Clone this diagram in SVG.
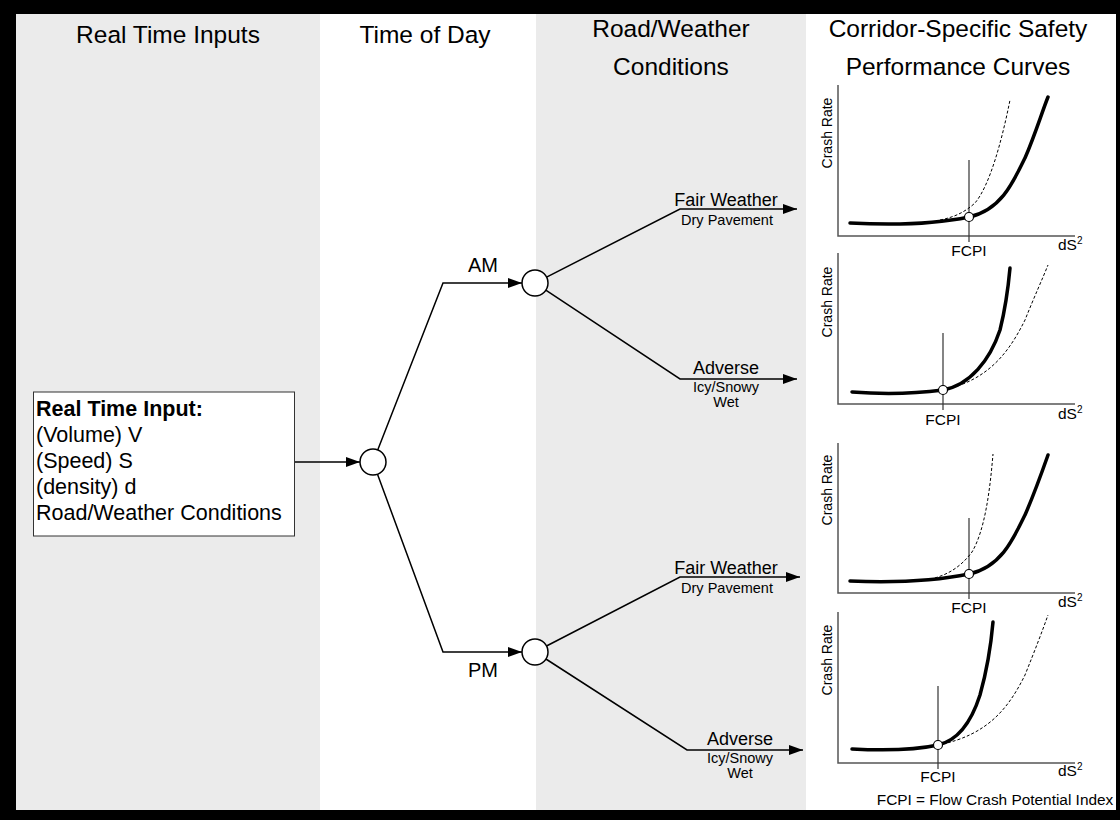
<svg xmlns="http://www.w3.org/2000/svg" width="1120" height="820" viewBox="0 0 1120 820">
<defs>
<style>
.t{font-family:"Liberation Sans",Arial,sans-serif;fill:#000}
.hdr{font-size:24.5px;text-anchor:middle}
.box{font-size:21.5px}
.lbl{font-size:18px;text-anchor:middle}
.sm{font-size:14.5px;text-anchor:middle}
.ax{fill:none;stroke:#555;stroke-width:1.5}
.fc{stroke:#333;stroke-width:1.2}
.thick{fill:none;stroke:#000;stroke-width:3.5;stroke-linecap:round}
.dash{fill:none;stroke:#000;stroke-width:1;stroke-dasharray:3,2}
.pt{fill:#fff;stroke:#000;stroke-width:1.2}
.conn{fill:none;stroke:#000;stroke-width:1.5}
.node{fill:#fff;stroke:#000;stroke-width:1.5}
.cr{font-size:14px;text-anchor:middle}
.fcpi{font-size:15.5px;text-anchor:middle}
.ds{font-size:15.5px}
</style>
<marker id="ah" viewBox="0 0 14 10" refX="14" refY="5" markerWidth="14" markerHeight="10" markerUnits="userSpaceOnUse" orient="auto">
<path d="M0,0 L14,5 L0,10 z" fill="#000"/>
</marker>
</defs>
<rect x="0" y="0" width="1120" height="820" fill="#000"/>
<g id="panels">
<rect x="16" y="14" width="304" height="796" fill="#ebebeb"/>
<rect x="320" y="14" width="216" height="796" fill="#fff"/>
<rect x="536" y="14" width="270" height="796" fill="#ebebeb"/>
<rect x="806" y="14" width="310" height="796" fill="#fff"/>
</g>
<g id="headers" class="t hdr">
<text x="168" y="43">Real Time Inputs</text>
<text x="425" y="43">Time of Day</text>
<text x="671" y="37">Road/Weather</text>
<text x="671" y="75">Conditions</text>
<text x="958" y="37">Corridor-Specific Safety</text>
<text x="958" y="75">Performance Curves</text>
</g>
<g id="connectors">
<line class="conn" x1="295" y1="462" x2="360" y2="462" marker-end="url(#ah)"/>
<polyline class="conn" points="377.7,449.9 443,283 522,283" marker-end="url(#ah)"/>
<polyline class="conn" points="377.5,474.2 443,652 522,652" marker-end="url(#ah)"/>
<polyline class="conn" points="546.6,277.1 680,209 797,209" marker-end="url(#ah)"/>
<polyline class="conn" points="545.8,290.2 680,379 797,379" marker-end="url(#ah)"/>
<polyline class="conn" points="546.5,646 680,577 800,577" marker-end="url(#ah)"/>
<polyline class="conn" points="545.9,659 687,750 803,750" marker-end="url(#ah)"/>
</g>
<g id="input-box">
<rect x="33.5" y="392" width="261" height="144" fill="#fff" stroke="#333" stroke-width="1"/>
<text class="t box" x="36" y="416" font-weight="bold">Real Time Input:</text>
<text class="t box" x="36" y="442">(Volume) V</text>
<text class="t box" x="36" y="468">(Speed) S</text>
<text class="t box" x="36" y="494">(density) d</text>
<text class="t box" x="36" y="520">Road/Weather Conditions</text>
</g>
<g id="root-node"><circle class="node" cx="373" cy="462" r="13"/></g>
<g id="am-node"><circle class="node" cx="535" cy="283" r="13"/><text class="t" x="483" y="272" font-size="20" text-anchor="middle">AM</text></g>
<g id="pm-node"><circle class="node" cx="535" cy="652" r="13"/><text class="t" x="483" y="677" font-size="20" text-anchor="middle">PM</text></g>
<g id="am-fair" class="t"><text class="lbl" x="726" y="206">Fair Weather</text><text class="sm" x="727" y="225">Dry Pavement</text></g>
<g id="am-adverse" class="t"><text class="lbl" x="726" y="374">Adverse</text><text class="sm" x="726" y="392">Icy/Snowy</text><text class="sm" x="726" y="407">Wet</text></g>
<g id="pm-fair" class="t"><text class="lbl" x="726" y="574">Fair Weather</text><text class="sm" x="727" y="593">Dry Pavement</text></g>
<g id="pm-adverse" class="t"><text class="lbl" x="740" y="745">Adverse</text><text class="sm" x="740" y="763">Icy/Snowy</text><text class="sm" x="740" y="778">Wet</text></g>
<g id="chart1">
<polyline class="ax" points="838,85 838,236 1075,236"/>
<line class="fc" x1="969" y1="160" x2="969" y2="242"/>
<path class="dash" d="M940,220 C955,217 965,212 975,203 C990,185 1002,140 1010,100"/>
<path class="thick" d="M850,223 C905,226 945,222 969,217 C1000,210 1012,185 1025,158 C1035,135 1042,112 1048,97"/>
<circle class="pt" cx="969" cy="217" r="4.5"/>
<text class="t cr" transform="translate(832,133) rotate(-90)">Crash Rate</text>
<text class="t fcpi" x="969" y="256">FCPI</text>
<text class="t ds" x="1058" y="250">dS<tspan font-size="10" dy="-6">2</tspan></text>
</g>
<g id="chart2">
<polyline class="ax" points="838,253 838,404 1075,404"/>
<line class="fc" x1="943" y1="333" x2="943" y2="410"/>
<path class="dash" d="M943,390 C990,380 1010,350 1025,320 C1035,295 1042,280 1048,265"/>
<path class="thick" d="M852,392 C890,395 920,393 943,390 C970,385 990,360 1000,330 C1005,310 1008,290 1010,268"/>
<circle class="pt" cx="943" cy="390" r="4.5"/>
<text class="t cr" transform="translate(832,302) rotate(-90)">Crash Rate</text>
<text class="t fcpi" x="943" y="425">FCPI</text>
<text class="t ds" x="1058" y="419">dS<tspan font-size="10" dy="-6">2</tspan></text>
</g>
<g id="chart3">
<polyline class="ax" points="838,443 838,593 1075,593"/>
<line class="fc" x1="969" y1="518" x2="969" y2="599"/>
<path class="dash" d="M925,580 C945,577 960,568 972,552 C985,530 990,490 993,454"/>
<path class="thick" d="M850,581 C900,583 940,580 969,574 C1000,567 1012,542 1025,515 C1035,492 1042,472 1048,455"/>
<circle class="pt" cx="969" cy="574" r="4.5"/>
<text class="t cr" transform="translate(832,490) rotate(-90)">Crash Rate</text>
<text class="t fcpi" x="969" y="613">FCPI</text>
<text class="t ds" x="1058" y="607">dS<tspan font-size="10" dy="-6">2</tspan></text>
</g>
<g id="chart4">
<polyline class="ax" points="838,612 838,763 1075,763"/>
<line class="fc" x1="938" y1="686" x2="938" y2="769"/>
<path class="dash" d="M938,745 C990,735 1010,705 1025,675 C1035,650 1042,632 1048,615"/>
<path class="thick" d="M852,749 C890,751 920,749 938,745 C960,740 972,720 980,695 C987,670 991,645 993,622"/>
<circle class="pt" cx="938" cy="745" r="4.5"/>
<text class="t cr" transform="translate(832,660) rotate(-90)">Crash Rate</text>
<text class="t fcpi" x="938" y="782">FCPI</text>
<text class="t ds" x="1058" y="776">dS<tspan font-size="10" dy="-6">2</tspan></text>
</g>
<g id="legend"><text class="t" x="995" y="805" font-size="15.4" text-anchor="middle">FCPI = Flow Crash Potential Index</text></g>
</svg>
